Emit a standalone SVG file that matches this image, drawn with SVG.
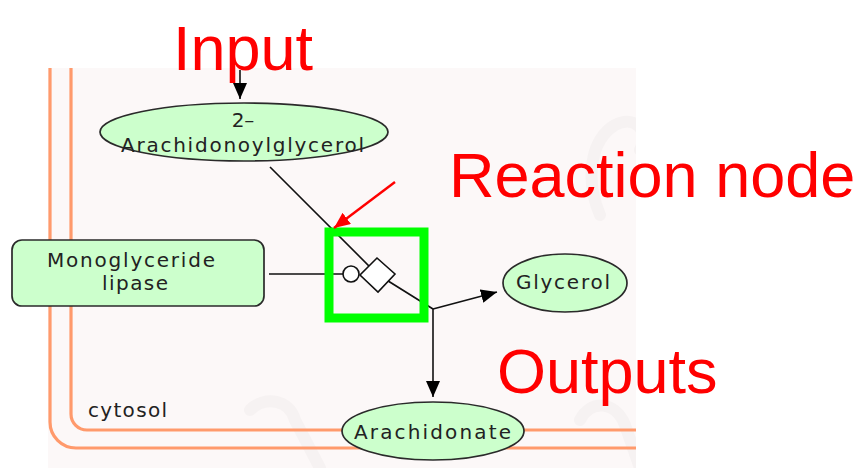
<svg xmlns="http://www.w3.org/2000/svg" width="864" height="468" viewBox="0 0 864 468">
  <style>
    .entity { fill: #ccffcc; stroke: #2a2a2a; stroke-width: 1.7; }
    .label { font-family: "DejaVu Sans", "Noto Sans", sans-serif; font-size: 20px; fill: #222222; }
    .edge { fill: none; stroke: #111111; stroke-width: 1.6; }
    .compartment { fill: none; stroke: #ff9a6c; stroke-width: 3.2; }
    .note { font-family: "Liberation Sans", Arial, sans-serif; font-size: 63px; fill: #ff0000; }
    .mark { fill: none; stroke: #f6f2f2; stroke-width: 12; stroke-linecap: round; }
  </style>
  <defs>
    <clipPath id="panelClip">
      <rect x="48" y="68" width="588" height="400"/>
    </clipPath>
    <marker id="arrowBlack" viewBox="0 0 16 14" refX="16" refY="7" markerWidth="16" markerHeight="14" markerUnits="userSpaceOnUse" orient="auto">
      <path d="M0,0 L16,7 L0,14 Z" fill="#000000"/>
    </marker>
    <marker id="arrowRed" viewBox="0 0 16 14" refX="16" refY="7" markerWidth="16" markerHeight="14" markerUnits="userSpaceOnUse" orient="auto">
      <path d="M0,0 L16,7 L0,14 Z" fill="#ff0000"/>
    </marker>
  </defs>

  <!-- canvas -->
  <rect x="0" y="0" width="864" height="468" fill="#ffffff"/>
  <rect x="48" y="68" width="588" height="400" fill="#fcf8f8"/>

  <!-- faint background logo marks -->
  <g clip-path="url(#panelClip)">
    <path class="mark" d="M600,215 C585,180 590,140 615,125 C635,115 650,130 640,150"/>
    <path class="mark" d="M250,410 C265,395 290,400 295,420 L320,468"/>
    <path class="mark" d="M580,420 C590,400 615,400 625,425 L640,468"/>
  </g>

  <!-- compartments -->
  <g id="compartments" clip-path="url(#panelClip)">
    <rect class="compartment" x="50" y="30" width="660" height="418" rx="26" ry="26"/>
    <rect class="compartment" x="71" y="30" width="620" height="400" rx="16" ry="16"/>
    <text class="label" x="88" y="417" textLength="79" lengthAdjust="spacing">cytosol</text>
  </g>

  <!-- connectors -->
  <g id="connectors">
    <line class="edge" x1="240" y1="70" x2="240" y2="99" marker-end="url(#arrowBlack)"/>
    <polyline class="edge" points="270,167 377,274 433,309"/>
    <line class="edge" x1="269" y1="274" x2="343" y2="274"/>
    <line class="edge" x1="433" y1="309" x2="497" y2="292" marker-end="url(#arrowBlack)"/>
    <line class="edge" x1="433" y1="309" x2="433" y2="397" marker-end="url(#arrowBlack)"/>
  </g>

  <!-- reaction node -->
  <g id="reaction">
    <circle cx="351" cy="274" r="8" fill="#ffffff" stroke="#111111" stroke-width="1.6"/>
    <polygon points="377,258 395,274 378,292 360,275" fill="#ffffff" stroke="#111111" stroke-width="1.6"/>
  </g>

  <!-- entities -->
  <g id="node-2ag">
    <ellipse class="entity" cx="244" cy="132" rx="144" ry="29"/>
    <text class="label" x="243" y="127" text-anchor="middle">2–</text>
    <text class="label" x="121" y="152" textLength="243" lengthAdjust="spacing">Arachidonoylglycerol</text>
  </g>

  <g id="node-mgl">
    <rect class="entity" x="12" y="240" width="252" height="66" rx="10" ry="10"/>
    <text class="label" x="47" y="267" textLength="168" lengthAdjust="spacing">Monoglyceride</text>
    <text class="label" x="102" y="290" textLength="66" lengthAdjust="spacing">lipase</text>
  </g>

  <g id="node-glycerol">
    <ellipse class="entity" cx="565" cy="283" rx="62" ry="29"/>
    <text class="label" x="516" y="289" textLength="94" lengthAdjust="spacing">Glycerol</text>
  </g>

  <g id="node-arachidonate">
    <ellipse class="entity" cx="433" cy="431" rx="91" ry="29"/>
    <text class="label" x="354" y="439" textLength="157" lengthAdjust="spacing">Arachidonate</text>
  </g>

  <!-- annotations -->
  <g id="annotations">
    <rect x="329" y="232" width="95" height="86" fill="none" stroke="#00ff00" stroke-width="9"/>
    <line x1="395" y1="182" x2="334" y2="228" stroke="#ff0000" stroke-width="2.4" marker-end="url(#arrowRed)"/>
    <text class="note" x="173" y="70">Input</text>
    <text class="note" x="449" y="197">Reaction node</text>
    <text class="note" x="497" y="393">Outputs</text>
  </g>
</svg>
